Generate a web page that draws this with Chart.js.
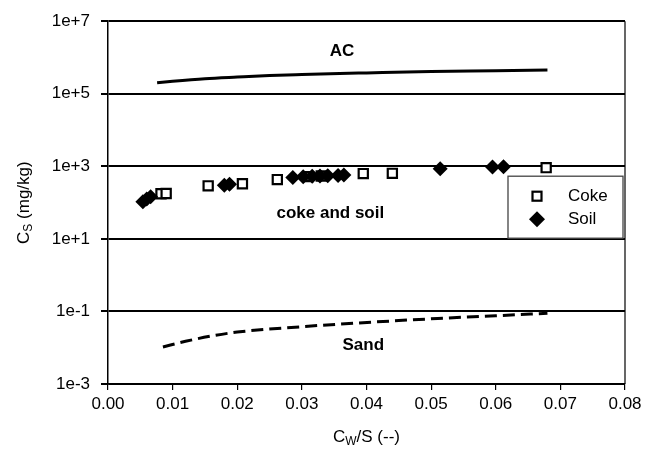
<!DOCTYPE html>
<html><head><meta charset="utf-8">
<script src="https://cdn.jsdelivr.net/npm/chart.js@4.4.0/dist/chart.umd.min.js"></script>
<style>html,body{margin:0;padding:0;background:#fff}</style>
</head><body>
<canvas id="c" width="647" height="460"></canvas>
<script>
// ---- data ----
const xTickValues = [0, 0.01, 0.02, 0.03, 0.04, 0.05, 0.06, 0.07, 0.08];
const yTickValues = [1e-3, 1e-1, 1e1, 1e3, 1e5, 1e7];
const yTickLabels = ['1e-3', '1e-1', '1e+1', '1e+3', '1e+5', '1e+7'];

const cokeX = [0.0082, 0.0090, 0.0155, 0.0208, 0.0262, 0.0310, 0.0330, 0.0395, 0.0440, 0.0678];
const cokeY = [175, 178, 290, 330, 430, 520, 540, 630, 640, 920];

const soilX = [0.0054, 0.0060, 0.0066, 0.0180, 0.0188, 0.0286, 0.0302, 0.0316, 0.0328, 0.0340, 0.0356, 0.0365, 0.0514, 0.0595, 0.0612];
const soilY = [105, 125, 145, 300, 320, 490, 515, 530, 540, 550, 560, 580, 860, 960, 980];

const acX = [0.0076, 0.010, 0.015, 0.020, 0.025, 0.030, 0.040, 0.050, 0.060, 0.068];
const acY = [2.0e5, 2.2e5, 2.6e5, 2.9e5, 3.2e5, 3.4e5, 3.75e5, 4.1e5, 4.3e5, 4.5e5];

const sandX = [0.0085, 0.012, 0.016, 0.020, 0.030, 0.036, 0.045, 0.051, 0.060, 0.068];
const sandY = [0.0105, 0.015, 0.021, 0.027, 0.038, 0.045, 0.056, 0.064, 0.076, 0.089];

const regionLabels = ['AC', 'coke and soil', 'Sand'];
const regionLabelX = [0.0362, 0.0344, 0.0395];
const regionLabelY = [1.5e6, 50, 0.0117];

const seriesNames = ['Coke', 'Soil'];
const xTitle = ['C', 'W', '/S (--)'];
const yTitle = ['C', 'S', ' (mg/kg)'];
// --------------

const FONT = '"Liberation Sans", Arial, sans-serif';
const pts = (xs, ys) => xs.map((x, i) => ({x: x, y: ys[i]}));

function drawSubText(ctx, parts, cx, cy, size) {
  ctx.font = size + 'px ' + FONT;
  const w0 = ctx.measureText(parts[0]).width;
  ctx.font = Math.round(size * 0.72) + 'px ' + FONT;
  const w1 = ctx.measureText(parts[1]).width;
  ctx.font = size + 'px ' + FONT;
  const w2 = ctx.measureText(parts[2]).width;
  let x = cx - (w0 + w1 + w2) / 2;
  ctx.textAlign = 'left';
  ctx.textBaseline = 'middle';
  ctx.fillText(parts[0], x, cy); x += w0;
  ctx.font = Math.round(size * 0.72) + 'px ' + FONT;
  ctx.fillText(parts[1], x, cy + size * 0.28); x += w1;
  ctx.font = size + 'px ' + FONT;
  ctx.fillText(parts[2], x, cy);
}

const extras = {
  id: 'extras',
  afterDraw(chart) {
    const ctx = chart.ctx, a = chart.chartArea;
    const xs = chart.scales.x, ys = chart.scales.y;
    ctx.save();
    // right border
    ctx.strokeStyle = '#000'; ctx.lineWidth = 1.2;
    ctx.beginPath(); ctx.moveTo(a.right, a.top); ctx.lineTo(a.right, a.bottom); ctx.stroke();
    // region labels
    ctx.fillStyle = '#000';
    ctx.font = 'bold 17px ' + FONT;
    ctx.textAlign = 'center'; ctx.textBaseline = 'middle';
    regionLabels.forEach((t, i) => {
      ctx.fillText(t, xs.getPixelForValue(regionLabelX[i]), ys.getPixelForValue(regionLabelY[i]));
    });
    // axis titles
    drawSubText(ctx, xTitle, (a.left + a.right) / 2, 437, 17);
    ctx.save();
    ctx.translate(24, (a.top + a.bottom) / 2);
    ctx.rotate(-Math.PI / 2);
    drawSubText(ctx, yTitle, 0, 0, 17);
    ctx.restore();
    // legend
    const lx = a.right - 117, ly = a.top + 155, lw = 115, lh = 62;
    ctx.fillStyle = '#fff';
    ctx.fillRect(lx, ly, lw, lh);
    ctx.strokeStyle = '#444'; ctx.lineWidth = 1.3;
    ctx.strokeRect(lx, ly, lw, lh);
    // square
    const mx = lx + 29;
    ctx.strokeStyle = '#000'; ctx.lineWidth = 2.2; ctx.fillStyle = '#fff';
    ctx.fillRect(mx - 4.5, ly + 20 - 4.5, 9, 9);
    ctx.strokeRect(mx - 4.5, ly + 20 - 4.5, 9, 9);
    // diamond
    ctx.fillStyle = '#000';
    ctx.beginPath();
    ctx.moveTo(mx - 8, ly + 43); ctx.lineTo(mx, ly + 35); ctx.lineTo(mx + 8, ly + 43); ctx.lineTo(mx, ly + 51);
    ctx.closePath(); ctx.fill();
    ctx.font = '17px ' + FONT; ctx.textAlign = 'left'; ctx.textBaseline = 'middle';
    ctx.fillText(chart.data.datasets[0].label, lx + 60, ly + 20);
    ctx.fillText(chart.data.datasets[1].label, lx + 60, ly + 43);
    ctx.restore();
  }
};

new Chart(document.getElementById('c'), {
  type: 'scatter',
  data: {
    datasets: [
      {label: seriesNames[0], data: pts(cokeX, cokeY), pointStyle: 'rect', pointRadius: 6.5, pointBorderWidth: 2.2,
       pointBackgroundColor: '#fff', pointBorderColor: '#000', order: 2},
      {label: seriesNames[1], data: pts(soilX, soilY), pointStyle: 'rectRot', pointRadius: 7.5, pointBorderWidth: 0,
       pointBackgroundColor: '#000', pointBorderColor: '#000', order: 1},
      {label: 'AC', data: pts(acX, acY), showLine: true, pointRadius: 0, borderColor: '#000', borderWidth: 3,
       cubicInterpolationMode: 'monotone', order: 3},
      {label: 'Sand', data: pts(sandX, sandY), showLine: true, pointRadius: 0, borderColor: '#000', borderWidth: 3,
       borderDash: [12, 6], cubicInterpolationMode: 'monotone', order: 3}
    ]
  },
  options: {
    responsive: false,
    animation: false,
    devicePixelRatio: 1,
    layout: {padding: {left: 0, top: 20, right: 22, bottom: 0}},
    plugins: {legend: {display: false}, tooltip: {enabled: false}},
    scales: {
      x: {
        type: 'linear', min: 0, max: 0.08,
        afterBuildTicks: s => { s.ticks = xTickValues.map(v => ({value: v})); },
        afterFit: s => { s.height = 76; },
        ticks: {callback: v => v.toFixed(2), color: '#000', font: {family: FONT, size: 17}, padding: 4, maxRotation: 0, autoSkip: false},
        grid: {drawOnChartArea: false, drawTicks: true, tickLength: 6, color: '#000', lineWidth: 1.2},
        border: {color: '#000', width: 1.5}
      },
      y: {
        type: 'logarithmic', min: 1e-3, max: 1e7,
        afterBuildTicks: s => { s.ticks = yTickValues.map(v => ({value: v})); },
        afterFit: s => { s.width = 108; },
        ticks: {callback: (v, i) => yTickLabels[i], color: '#000', font: {family: FONT, size: 17}, padding: 11, autoSkip: false},
        grid: {color: '#000', lineWidth: 2, tickLength: 7, drawTicks: true},
        border: {color: '#000', width: 1.5}
      }
    }
  },
  plugins: [extras]
});
</script>
</body></html>
